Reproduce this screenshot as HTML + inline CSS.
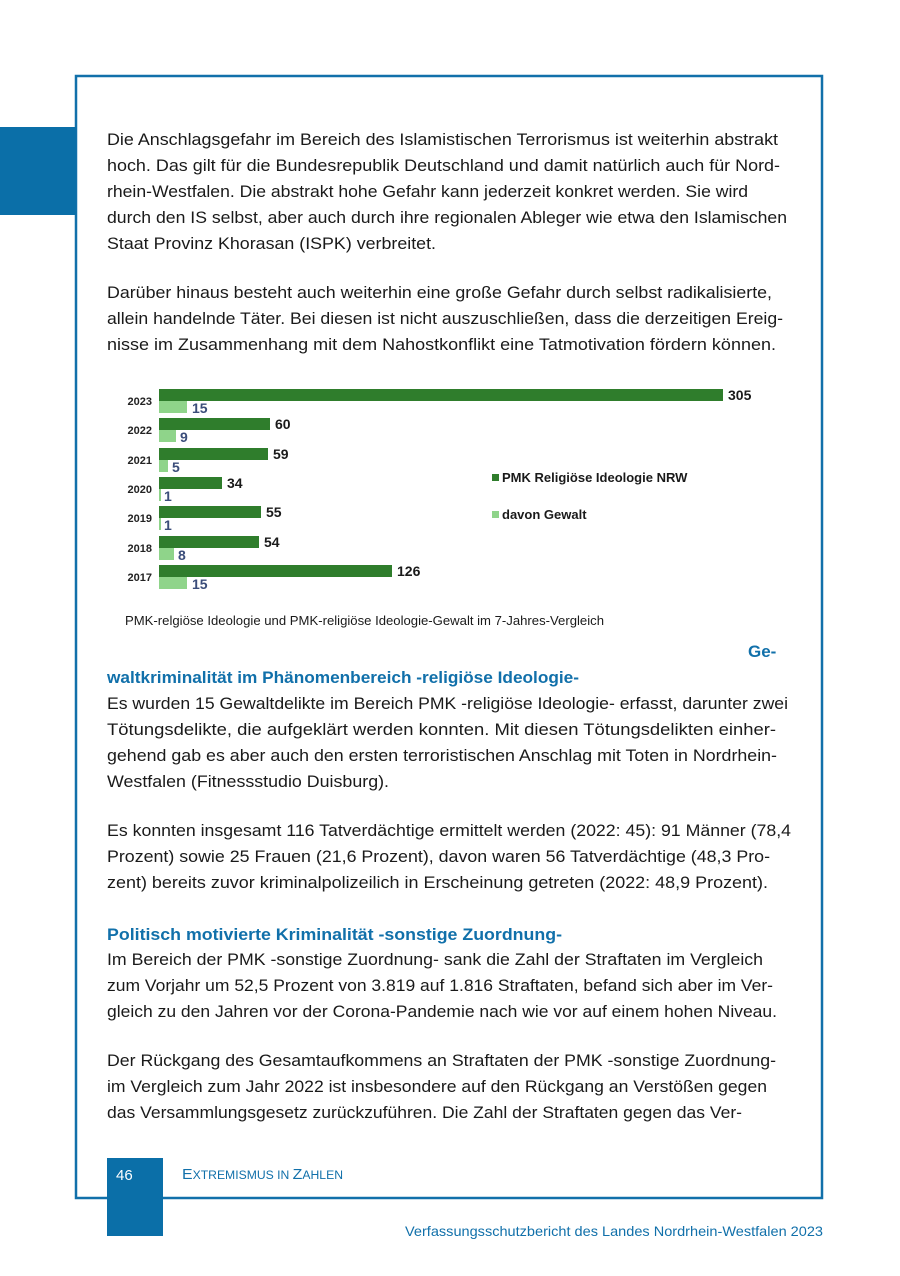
<!DOCTYPE html>
<html><head><meta charset="utf-8"><style>
html,body{margin:0;padding:0;background:#fff;}
svg{display:block;font-family:"Liberation Sans",sans-serif;}
.t{font-size:17px;fill:#1a1a1a;}
.h{font-size:17px;fill:#1170aa;font-weight:bold;}
.yr{font-size:11px;font-weight:bold;fill:#222;}
.v{font-size:14px;font-weight:bold;fill:#1a1a1a;}
.vl{font-size:14px;font-weight:bold;fill:#3b4d7a;}
</style></head><body>
<svg width="900" height="1276" viewBox="0 0 900 1276" xmlns="http://www.w3.org/2000/svg">
<rect x="76" y="76" width="746" height="1122" fill="none" stroke="#1170aa" stroke-width="2.5"/>
<rect x="0" y="127" width="76" height="88" fill="#0b6fa8"/>
<rect x="107" y="1158" width="56" height="78" fill="#0b6fa8"/>

<g class="t">
<text x="107" y="145" textLength="671" lengthAdjust="spacingAndGlyphs">Die Anschlagsgefahr im Bereich des Islamistischen Terrorismus ist weiterhin abstrakt</text>
<text x="107" y="171" textLength="673" lengthAdjust="spacingAndGlyphs">hoch. Das gilt für die Bundesrepublik Deutschland und damit natürlich auch für Nord-</text>
<text x="107" y="197" textLength="641" lengthAdjust="spacingAndGlyphs">rhein-Westfalen. Die abstrakt hohe Gefahr kann jederzeit konkret werden. Sie wird</text>
<text x="107" y="223" textLength="680" lengthAdjust="spacingAndGlyphs">durch den IS selbst, aber auch durch ihre regionalen Ableger wie etwa den Islamischen</text>
<text x="107" y="249" textLength="329" lengthAdjust="spacingAndGlyphs">Staat Provinz Khorasan (ISPK) verbreitet.</text>

<text x="107" y="298" textLength="665" lengthAdjust="spacingAndGlyphs">Darüber hinaus besteht auch weiterhin eine große Gefahr durch selbst radikalisierte,</text>
<text x="107" y="324" textLength="676" lengthAdjust="spacingAndGlyphs">allein handelnde Täter. Bei diesen ist nicht auszuschließen, dass die derzeitigen Ereig-</text>
<text x="107" y="350" textLength="669" lengthAdjust="spacingAndGlyphs">nisse im Zusammenhang mit dem Nahostkonflikt eine Tatmotivation fördern können.</text>
</g>

<!-- chart -->
<g>
<g class="yr" text-anchor="end">
<text x="152" y="405">2023</text><text x="152" y="434">2022</text><text x="152" y="464">2021</text>
<text x="152" y="493">2020</text><text x="152" y="522">2019</text><text x="152" y="552">2018</text><text x="152" y="581">2017</text>
</g>
<g fill="#2f7d2c">
<rect x="159" y="389" width="564" height="12"/>
<rect x="159" y="418" width="111" height="12"/>
<rect x="159" y="448" width="109" height="12"/>
<rect x="159" y="477" width="63" height="12"/>
<rect x="159" y="506" width="102" height="12"/>
<rect x="159" y="536" width="100" height="12"/>
<rect x="159" y="565" width="233" height="12"/>
</g>
<g fill="#8fd48a">
<rect x="159" y="401" width="28" height="12"/>
<rect x="159" y="430" width="17" height="12"/>
<rect x="159" y="460" width="9" height="12"/>
<rect x="159" y="489" width="2" height="12"/>
<rect x="159" y="518" width="2" height="12"/>
<rect x="159" y="548" width="15" height="12"/>
<rect x="159" y="577" width="28" height="12"/>
</g>
<g class="v">
<text x="728" y="400">305</text><text x="275" y="429">60</text><text x="273" y="459">59</text>
<text x="227" y="488">34</text><text x="266" y="517">55</text><text x="264" y="547">54</text><text x="397" y="576">126</text>
</g>
<g class="vl">
<text x="192" y="413">15</text><text x="180" y="442">9</text><text x="172" y="472">5</text>
<text x="164" y="501">1</text><text x="164" y="530">1</text><text x="178" y="560">8</text><text x="192" y="589">15</text>
</g>
<rect x="492" y="474" width="7" height="7" fill="#2f7d2c"/>
<text x="502" y="482" font-size="13" font-weight="bold" fill="#1a1a1a">PMK Religiöse Ideologie NRW</text>
<rect x="492" y="511" width="7" height="7" fill="#8fd48a"/>
<text x="502" y="519" font-size="13" font-weight="bold" fill="#1a1a1a">davon Gewalt</text>
</g>
<text x="125" y="625" font-size="12.5" fill="#1a1a1a" textLength="479" lengthAdjust="spacingAndGlyphs">PMK-relgiöse Ideologie und PMK-religiöse Ideologie-Gewalt im 7-Jahres-Vergleich</text>

<text class="h" x="748" y="657">Ge-</text>
<text class="h" x="107" y="683" textLength="472" lengthAdjust="spacingAndGlyphs">waltkriminalität im Phänomenbereich -religiöse Ideologie-</text>
<g class="t">
<text x="107" y="709" textLength="681" lengthAdjust="spacingAndGlyphs">Es wurden 15 Gewaltdelikte im Bereich PMK -religiöse Ideologie- erfasst, darunter zwei</text>
<text x="107" y="735" textLength="669" lengthAdjust="spacingAndGlyphs">Tötungsdelikte, die aufgeklärt werden konnten. Mit diesen Tötungsdelikten einher-</text>
<text x="107" y="761" textLength="670" lengthAdjust="spacingAndGlyphs">gehend gab es aber auch den ersten terroristischen Anschlag mit Toten in Nordrhein-</text>
<text x="107" y="787" textLength="282" lengthAdjust="spacingAndGlyphs">Westfalen (Fitnessstudio Duisburg).</text>

<text x="107" y="836" textLength="684" lengthAdjust="spacingAndGlyphs">Es konnten insgesamt 116 Tatverdächtige ermittelt werden (2022: 45): 91 Männer (78,4</text>
<text x="107" y="862" textLength="663" lengthAdjust="spacingAndGlyphs">Prozent) sowie 25 Frauen (21,6 Prozent), davon waren 56 Tatverdächtige (48,3 Pro-</text>
<text x="107" y="888" textLength="661" lengthAdjust="spacingAndGlyphs">zent) bereits zuvor kriminalpolizeilich in Erscheinung getreten (2022: 48,9 Prozent).</text>
</g>
<text class="h" x="107" y="940" textLength="455" lengthAdjust="spacingAndGlyphs">Politisch motivierte Kriminalität -sonstige Zuordnung-</text>
<g class="t">
<text x="107" y="965" textLength="656" lengthAdjust="spacingAndGlyphs">Im Bereich der PMK -sonstige Zuordnung- sank die Zahl der Straftaten im Vergleich</text>
<text x="107" y="991" textLength="666" lengthAdjust="spacingAndGlyphs">zum Vorjahr um 52,5 Prozent von 3.819 auf 1.816 Straftaten, befand sich aber im Ver-</text>
<text x="107" y="1017" textLength="670" lengthAdjust="spacingAndGlyphs">gleich zu den Jahren vor der Corona-Pandemie nach wie vor auf einem hohen Niveau.</text>

<text x="107" y="1066" textLength="669" lengthAdjust="spacingAndGlyphs">Der Rückgang des Gesamtaufkommens an Straftaten der PMK -sonstige Zuordnung-</text>
<text x="107" y="1092" textLength="660" lengthAdjust="spacingAndGlyphs">im Vergleich zum Jahr 2022 ist insbesondere auf den Rückgang an Verstößen gegen</text>
<text x="107" y="1118" textLength="635" lengthAdjust="spacingAndGlyphs">das Versammlungsgesetz zurückzuführen. Die Zahl der Straftaten gegen das Ver-</text>
</g>

<text x="116" y="1180" font-size="15" fill="#fff">46</text>
<text x="182" y="1179" fill="#1170aa" textLength="161" lengthAdjust="spacingAndGlyphs"><tspan font-size="15">E</tspan><tspan font-size="11.5">XTREMISMUS IN </tspan><tspan font-size="15">Z</tspan><tspan font-size="11.5">AHLEN</tspan></text>
<text x="405" y="1236" font-size="14" fill="#1170aa" textLength="418" lengthAdjust="spacingAndGlyphs">Verfassungsschutzbericht des Landes Nordrhein-Westfalen 2023</text>
</svg>
</body></html>
